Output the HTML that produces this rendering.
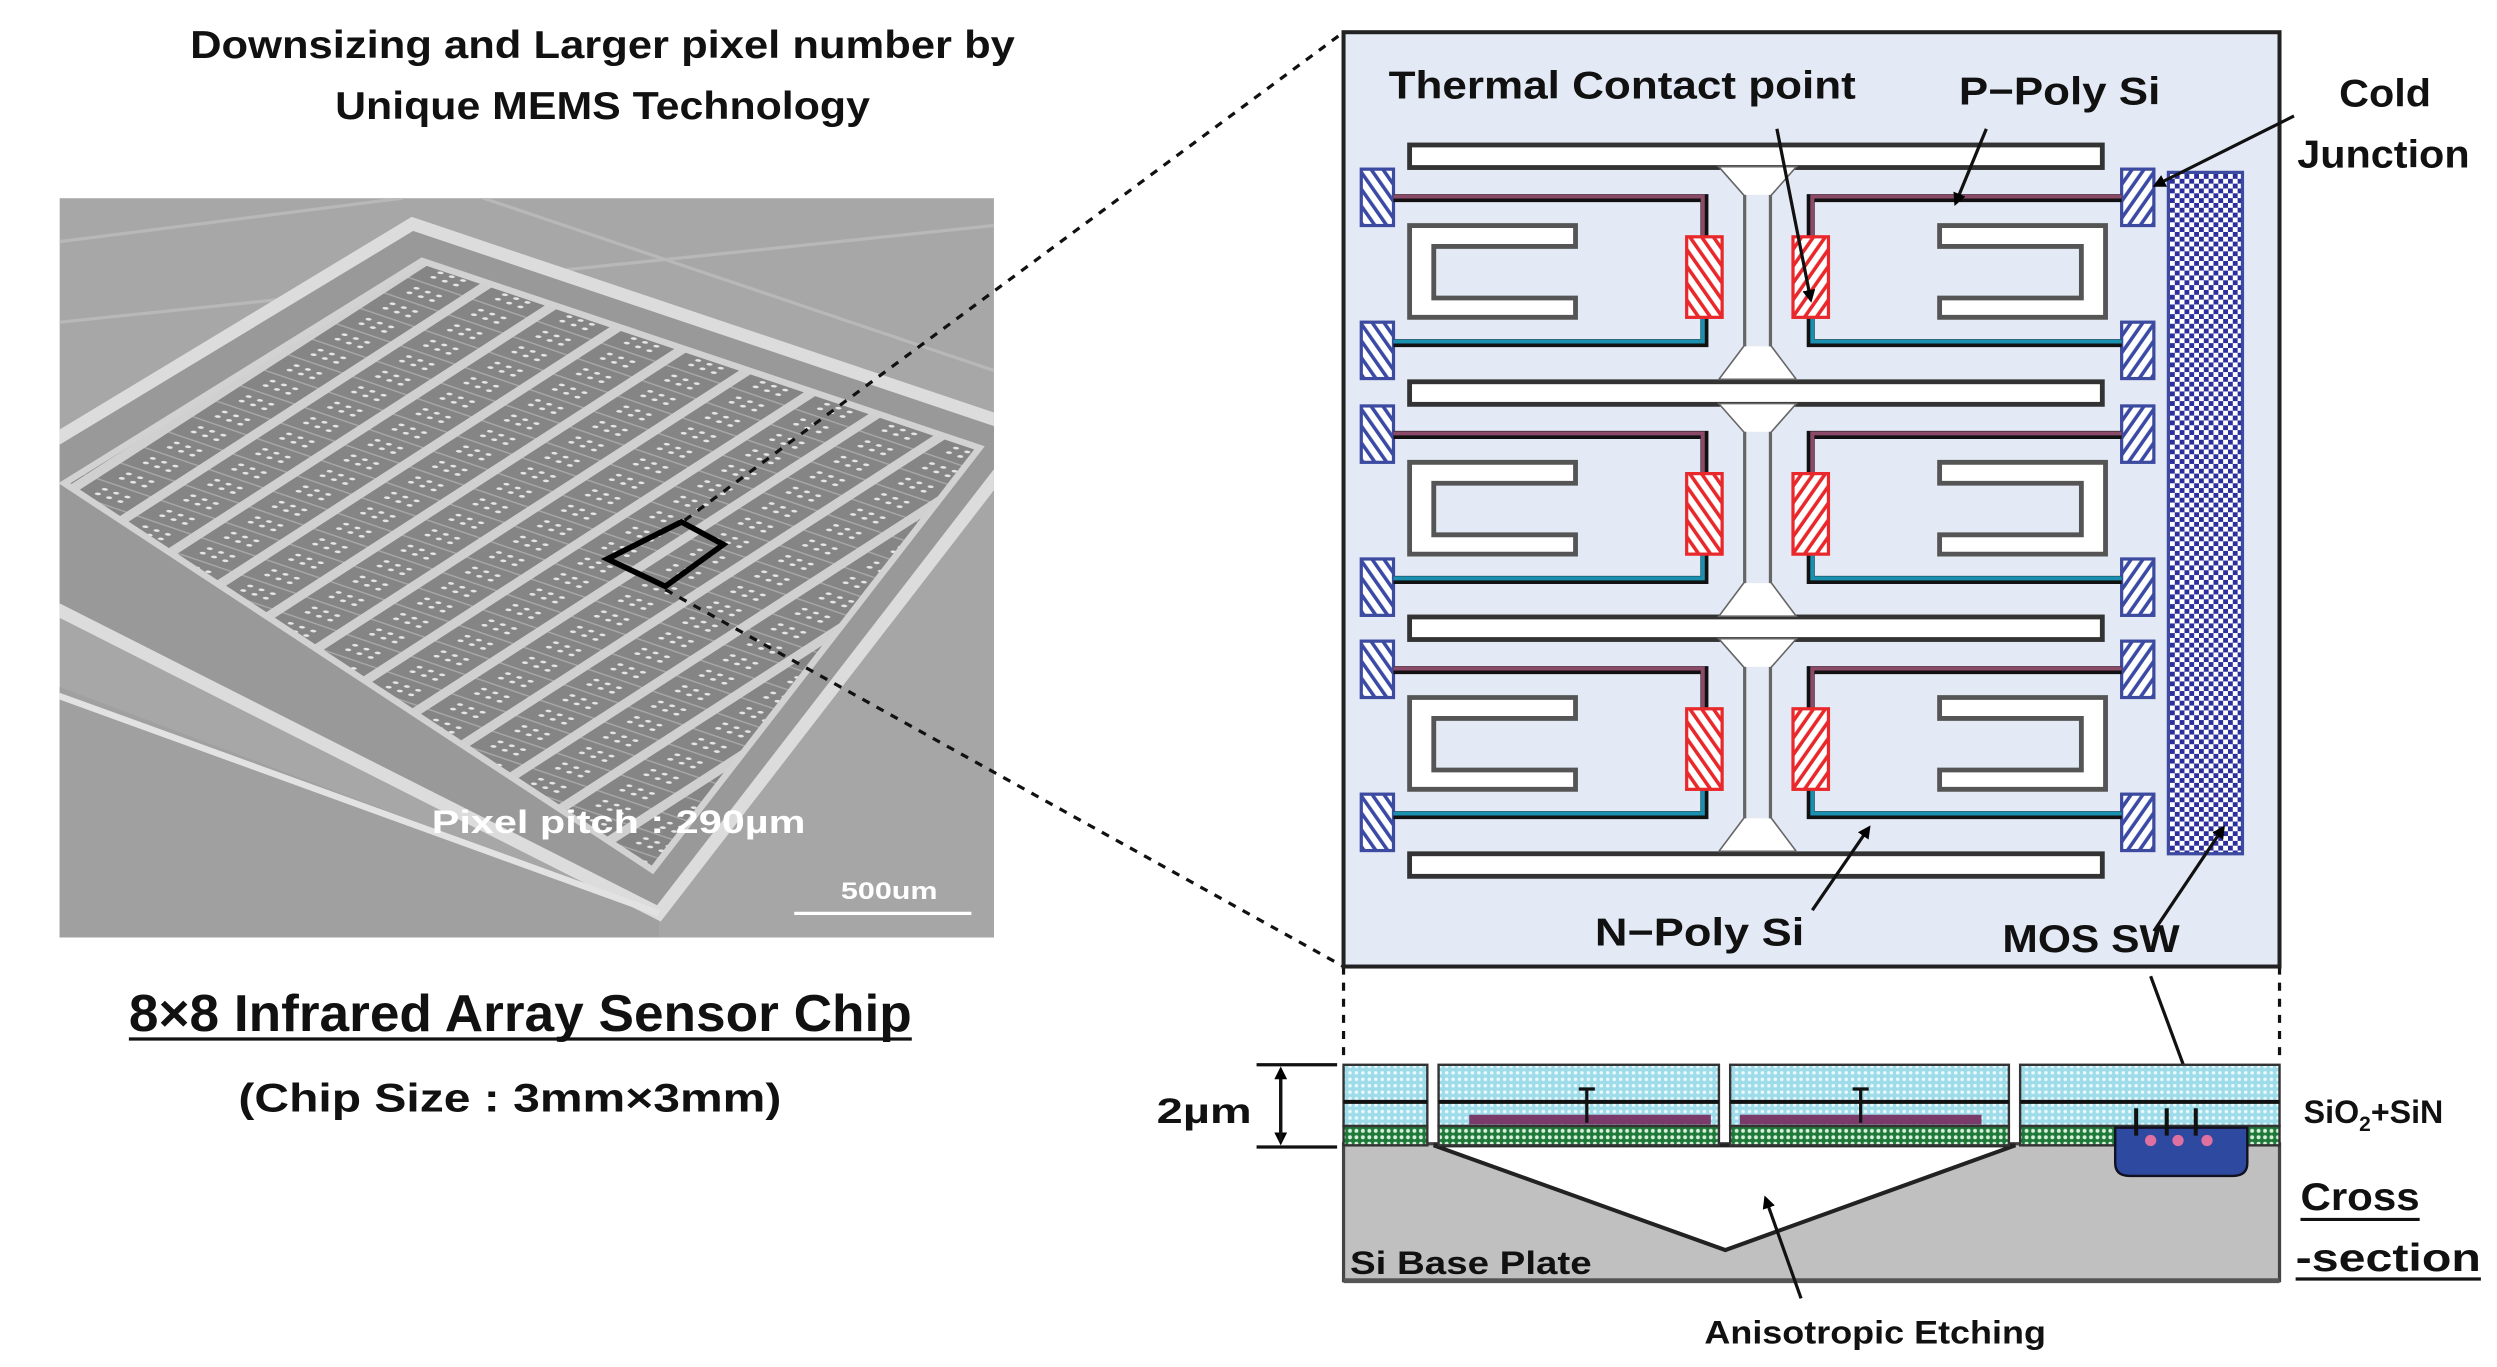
<!DOCTYPE html>
<html><head><meta charset="utf-8"><style>
html,body{margin:0;padding:0;background:#fff;}
svg{display:block;}
text{font-family:"Liberation Sans",sans-serif;font-weight:bold;}
</style></head><body>
<svg width="2497" height="1367" viewBox="0 0 1550 848.6" preserveAspectRatio="none" xmlns="http://www.w3.org/2000/svg">
<defs>
 <pattern id="hb" width="6" height="6" patternUnits="userSpaceOnUse" patternTransform="rotate(-35)"><rect width="6" height="6" fill="#fff"/><rect width="2.2" height="6" fill="#3a4aa5"/></pattern>
 <pattern id="hr" width="6" height="6" patternUnits="userSpaceOnUse" patternTransform="rotate(-35)"><rect width="6" height="6" fill="#fff"/><rect width="2.2" height="6" fill="#e8282a"/></pattern>
 <pattern id="ck" width="6" height="6" patternUnits="userSpaceOnUse"><rect width="6" height="6" fill="#fff"/><rect width="3" height="3" fill="#2c2f9c"/><rect x="3" y="3" width="3" height="3" fill="#2c2f9c"/></pattern>
 <pattern id="cy" width="4" height="4" patternUnits="userSpaceOnUse"><rect width="4" height="4" fill="#9fdcea"/><circle cx="2" cy="2" r="1.1" fill="#eafaff"/></pattern>
 <pattern id="gr" width="4" height="4" patternUnits="userSpaceOnUse"><rect width="4" height="4" fill="#1f7a3a"/><circle cx="2" cy="2" r="1.2" fill="#d8f0dc"/></pattern>
 <pattern id="arr" width="40" height="24" patternUnits="userSpaceOnUse" patternTransform="matrix(1.0,0.34,-0.62,0.4,262,160)">
  <rect width="40" height="24" fill="#858585"/>
  <rect x="0" y="0" width="7" height="24" fill="#d0d0d0"/>
  <rect x="7" y="0" width="33" height="1.5" fill="#a8a8a8"/>
  <circle cx="17" cy="9" r="1.6" fill="#e6e6e6"/><circle cx="24" cy="9" r="1.6" fill="#e6e6e6"/><circle cx="31" cy="9" r="1.6" fill="#e6e6e6"/>
  <circle cx="17" cy="16" r="1.6" fill="#e6e6e6"/><circle cx="24" cy="16" r="1.6" fill="#e6e6e6"/><circle cx="31" cy="16" r="1.6" fill="#e6e6e6"/>
 </pattern>
 <marker id="ah" markerWidth="8" markerHeight="8" refX="6" refY="4" orient="auto" markerUnits="userSpaceOnUse"><path d="M0,0 L8,4 L0,8 Z" fill="#000"/></marker>
 <clipPath id="pc"><rect x="37" y="123" width="580" height="459"/></clipPath>
 <g id="cell">
  <rect x="845" y="0" width="20" height="35" fill="url(#hb)" stroke="#3c4aa0" stroke-width="2"/>
  <rect x="845" y="95" width="20" height="35" fill="url(#hb)" stroke="#3c4aa0" stroke-width="2"/>
  <polyline points="865,18 1058,18 1058,42" fill="none" stroke="#111" stroke-width="5"/>
  <polyline points="865,17 1057,17 1057,42" fill="none" stroke="#8a4a68" stroke-width="2.5"/>
  <polyline points="1058,92 1058,108 865,108" fill="none" stroke="#111" stroke-width="5"/>
  <polyline points="1057,92 1057,107 865,107" fill="none" stroke="#1a90b0" stroke-width="2.5"/>
  <rect x="1047" y="42" width="22" height="50" fill="url(#hr)" stroke="#e8282a" stroke-width="2"/>
  <path d="M978 35 H875 V92 H978 V80 H890 V48 H978 Z" fill="#fff" stroke="#555" stroke-width="3"/>
 </g>
 <g id="row">
  <use href="#cell"/>
  <use href="#cell" transform="translate(2182,0) scale(-1,1)"/>
  <path d="M1068,-1 L1083,16 V110 L1068,130 H1114 L1099,110 V16 L1114,-1 Z" fill="#e4eaf5" stroke="#666" stroke-width="2"/>
  <path d="M1068,-1 L1083,16 H1099 L1114,-1 Z M1068,130 L1083,110 H1099 L1114,130 Z" fill="#fff"/>
 </g>
</defs>

<text x="118" y="36" font-size="24" textLength="512" lengthAdjust="spacingAndGlyphs" fill="#111">Downsizing and Larger pixel number by</text>
<text x="208" y="74" font-size="24" textLength="332" lengthAdjust="spacingAndGlyphs" fill="#111">Unique MEMS Technology</text>

<g clip-path="url(#pc)">
 <rect x="37" y="123" width="580" height="459" fill="#a7a7a7"/>
 <path d="M37,200 L617,140 M300,123 L617,230 M37,150 L250,123" stroke="#b8b8b8" stroke-width="2" fill="none"/>
 <polygon points="20,420 409,567 409,600 20,600" fill="#a0a0a0"/>
 <polygon points="409,567 640,265 640,600 409,600" fill="#a6a6a6"/>
 <polygon points="256,139 640,268 409,567 -60,330" fill="#999" stroke="#dcdcdc" stroke-width="8"/>
 <polygon points="262,162 608,278 405,540 40,300" fill="url(#arr)" stroke="#d2d2d2" stroke-width="4"/>
 <path d="M20,426 L409,567" stroke="#e2e2e2" stroke-width="4"/>
 <polygon points="423,324 449,338 413,364 377,347" fill="none" stroke="#000" stroke-width="3.5"/>
 <text x="268" y="517" font-size="20" textLength="232" lengthAdjust="spacingAndGlyphs" fill="#fff">Pixel pitch : 290µm</text>
 <text x="522" y="558" font-size="15" textLength="60" lengthAdjust="spacingAndGlyphs" fill="#fff">500um</text>
 <line x1="493" y1="567" x2="603" y2="567" stroke="#fff" stroke-width="2"/>
</g>

<text x="80" y="640" font-size="32" textLength="486" lengthAdjust="spacingAndGlyphs" fill="#111">8×8 Infrared Array Sensor Chip</text>
<line x1="80" y1="645" x2="566" y2="645" stroke="#111" stroke-width="2"/>
<text x="148" y="690" font-size="25" textLength="337" lengthAdjust="spacingAndGlyphs" fill="#111">(Chip Size : 3mm×3mm)</text>

<g stroke="#111" stroke-width="2" stroke-dasharray="5,5" fill="none">
 <line x1="425" y1="323" x2="834" y2="20"/>
 <line x1="413" y1="366" x2="834" y2="600"/>
 <line x1="834" y1="600" x2="834" y2="660"/>
 <line x1="1415" y1="600" x2="1415" y2="660"/>
</g>

<g>
 <rect x="834" y="20" width="581" height="580" fill="#e4eaf5" stroke="#222" stroke-width="2.5"/>
 <g fill="#fff" stroke="#333" stroke-width="3">
  <rect x="875" y="90" width="430" height="14"/>
  <rect x="875" y="237" width="430" height="14"/>
  <rect x="875" y="383" width="430" height="14"/>
  <rect x="875" y="530" width="430" height="14"/>
 </g>
 <use href="#row" transform="translate(0,105)"/>
 <use href="#row" transform="translate(0,252)"/>
 <use href="#row" transform="translate(0,398)"/>
 <rect x="1346" y="107" width="46" height="423" fill="url(#ck)" stroke="#3c4aa0" stroke-width="2"/>
 <text x="862" y="61" font-size="24" textLength="290" lengthAdjust="spacingAndGlyphs" fill="#111">Thermal Contact point</text>
 <text x="1216" y="65" font-size="24" textLength="125" lengthAdjust="spacingAndGlyphs" fill="#111">P−Poly Si</text>
 <text x="990" y="587" font-size="24" textLength="130" lengthAdjust="spacingAndGlyphs" fill="#111">N−Poly Si</text>
 <text x="1243" y="591" font-size="24" textLength="110" lengthAdjust="spacingAndGlyphs" fill="#111">MOS SW</text>
 <g stroke="#111" stroke-width="2" fill="none" marker-end="url(#ah)">
  <line x1="1103" y1="80" x2="1124" y2="186"/>
  <line x1="1233" y1="80" x2="1214" y2="126"/>
  <line x1="1125" y1="565" x2="1160" y2="514"/>
  <line x1="1337" y1="578" x2="1380" y2="514"/>
  <line x1="1424" y1="72" x2="1338" y2="115"/>
  <line x1="1335" y1="606" x2="1366" y2="690"/>
 </g>
</g>
<text x="1452" y="66" font-size="24" textLength="57" lengthAdjust="spacingAndGlyphs" fill="#111">Cold</text>
<text x="1426" y="104" font-size="24" textLength="107" lengthAdjust="spacingAndGlyphs" fill="#111">Junction</text>

<g>
 <rect x="834" y="710" width="581" height="85" fill="#c0c0c0" stroke="#444" stroke-width="2"/>
 <line x1="834" y1="795" x2="1415" y2="795" stroke="#555" stroke-width="3"/>
 <polygon points="890,711 1071,776 1251,711" fill="#fff" stroke="#222" stroke-width="2.5"/>
 <g stroke="#333" stroke-width="1.5">
  <rect x="834" y="661" width="52" height="38" fill="url(#cy)"/>
  <rect x="893" y="661" width="174" height="38" fill="url(#cy)"/>
  <rect x="1074" y="661" width="173" height="38" fill="url(#cy)"/>
  <rect x="1254" y="661" width="161" height="38" fill="url(#cy)"/>
  <rect x="834" y="699" width="52" height="12" fill="url(#gr)"/>
  <rect x="893" y="699" width="174" height="12" fill="url(#gr)"/>
  <rect x="1074" y="699" width="173" height="12" fill="url(#gr)"/>
  <rect x="1254" y="699" width="161" height="12" fill="url(#gr)"/>
 </g>
 <g stroke="#111" stroke-width="2.5">
  <line x1="834" y1="684" x2="886" y2="684"/><line x1="893" y1="684" x2="1067" y2="684"/>
  <line x1="1074" y1="684" x2="1247" y2="684"/><line x1="1254" y1="684" x2="1415" y2="684"/>
 </g>
 <rect x="912" y="692" width="150" height="6" fill="#7a3a6a"/>
 <rect x="1080" y="692" width="150" height="6" fill="#7a3a6a"/>
 <path d="M985,676 V697 M980,676 H990 M1155,676 V697 M1150,676 H1160" stroke="#111" stroke-width="2"/>
 <path d="M1313,700 H1395 V722 Q1395,730 1386,730 H1322 Q1313,730 1313,722 Z" fill="#2d4aa0" stroke="#112" stroke-width="1.5"/>
 <circle cx="1335" cy="708" r="3.5" fill="#e070a0"/><circle cx="1352" cy="708" r="3.5" fill="#e070a0"/><circle cx="1370" cy="708" r="3.5" fill="#e070a0"/>
 <path d="M1326,688 V705 M1345,688 V705 M1363,688 V705" stroke="#111" stroke-width="2.5"/>
 <text x="838" y="791" font-size="20" textLength="150" lengthAdjust="spacingAndGlyphs" fill="#111">Si Base Plate</text>
 <line x1="1118" y1="806" x2="1096" y2="744" stroke="#111" stroke-width="2" marker-end="url(#ah)"/>
</g>
<text x="1058" y="834" font-size="20" textLength="212" lengthAdjust="spacingAndGlyphs" fill="#111">Anisotropic  Etching</text>
<g stroke="#111" stroke-width="2">
 <line x1="780" y1="661" x2="830" y2="661"/><line x1="780" y1="712" x2="830" y2="712"/>
 <line x1="795" y1="664" x2="795" y2="709" marker-end="url(#ah)"/>
 <line x1="795" y1="709" x2="795" y2="664" marker-end="url(#ah)"/>
</g>
<text x="718" y="697" font-size="22" textLength="59" lengthAdjust="spacingAndGlyphs" fill="#111">2µm</text>
<text x="1430" y="697" font-size="20" fill="#111">SiO<tspan font-size="13" dy="5">2</tspan><tspan dy="-5">+SiN</tspan></text>
<text x="1428" y="751" font-size="24" textLength="74" lengthAdjust="spacingAndGlyphs" fill="#111">Cross</text>
<line x1="1428" y1="757" x2="1502" y2="757" stroke="#111" stroke-width="2"/>
<text x="1425" y="789" font-size="24" textLength="115" lengthAdjust="spacingAndGlyphs" fill="#111">-section</text>
<line x1="1425" y1="794" x2="1540" y2="794" stroke="#111" stroke-width="2"/>
</svg>
</body></html>
